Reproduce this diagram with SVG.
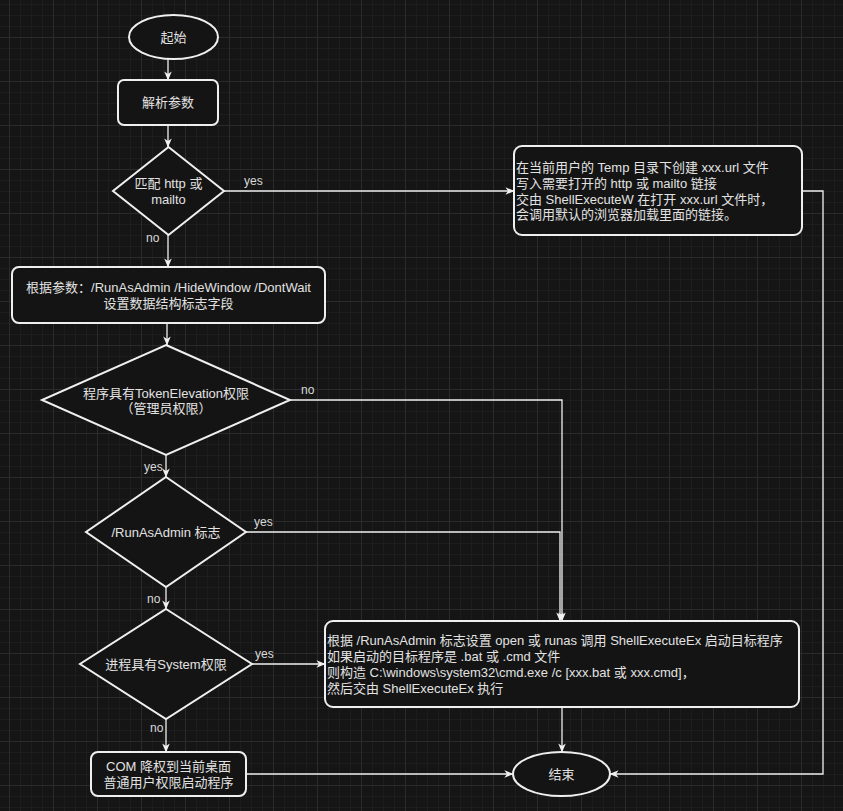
<svg xmlns="http://www.w3.org/2000/svg" width="843" height="811" viewBox="0 0 843 811">
<defs>
<pattern id="grid" patternUnits="userSpaceOnUse" x="9" y="37" width="44" height="44">
<rect width="44" height="44" fill="#151515"/>
<path d="M11.5,0V44M22.5,0V44M33.5,0V44M0,11.5H44M0,22.5H44M0,33.5H44" stroke="#1d1d1d" stroke-width="1"/>
<path d="M0.5,0V44M0,0.5H44" stroke="#2b2b2b" stroke-width="1"/>
</pattern>
<marker id="arr" viewBox="0 0 10 10" refX="9.5" refY="5" markerWidth="9" markerHeight="9" markerUnits="userSpaceOnUse" orient="auto">
<path d="M0,0.8 L10,5 L0,9.2 L2.8,5 Z" fill="#f0f0f0"/>
</marker>
</defs>
<style>
.n{fill:#141414;stroke:#efefef;stroke-width:2}
.t{font-family:"Liberation Sans","Noto Sans CJK SC",sans-serif;font-size:13px;fill:#e2e2e2}
.c{fill:none;stroke:#f0f0f0;stroke-width:1.3;marker-end:url(#arr)}
.cn{fill:none;stroke:#f0f0f0;stroke-width:1.3}
.l{font-family:"Liberation Sans","Noto Sans CJK SC",sans-serif;font-size:12px;fill:#d8d8d8}
</style>
<rect width="843" height="811" fill="url(#grid)"/>

<g id="connectors">
<path class="c" d="M168,59 V80"/>
<path class="c" d="M168,125 V147"/>
<path class="c" d="M224,191 H514"/>
<path class="c" d="M168,235 V267"/>
<path class="c" d="M167,323 V345"/>
<path class="c" d="M290,400 H562 V621"/>
<path class="c" d="M166,455 V477"/>
<path class="c" d="M246,532 H560 V621"/>
<path class="c" d="M166,587 V609"/>
<path class="c" d="M252,664 H325"/>
<path class="c" d="M166,719 V752"/>
<path class="c" d="M246,774 H513"/>
<path class="c" d="M562,707 V752"/>
<path class="c" d="M802,191 H823 V774 H610"/>
<text class="l" x="244" y="185">yes</text>
<text class="l" x="146" y="242">no</text>
<text class="l" x="301" y="394">no</text>
<text class="l" x="144" y="471">yes</text>
<text class="l" x="254" y="526">yes</text>
<text class="l" x="147" y="603">no</text>
<text class="l" x="255" y="658">yes</text>
<text class="l" x="150" y="732">no</text>
</g>

<g id="start">
<ellipse class="n" cx="173.5" cy="37" rx="44.5" ry="22"/>
<text class="t" x="173.5" y="41.5" text-anchor="middle">起始</text>
</g>

<g id="parse">
<rect class="n" x="118" y="80" width="100" height="45" rx="6"/>
<text class="t" x="168" y="107" text-anchor="middle">解析参数</text>
</g>

<g id="match">
<polygon class="n" points="168.5,147 224,191 168.5,235 113,191"/>
<text class="t" x="168.5" y="187.5" text-anchor="middle">匹配 http 或</text>
<text class="t" x="168.5" y="203.5" text-anchor="middle">mailto</text>
</g>

<g id="urlfile">
<rect class="n" x="514" y="146" width="288" height="89" rx="8"/>
<text class="t" x="516" y="172">在当前用户的 Temp 目录下创建 xxx.url 文件</text>
<text class="t" x="516" y="188">写入需要打开的 http 或 mailto 链接</text>
<text class="t" x="516" y="203.5">交由 ShellExecuteW 在打开 xxx.url 文件时，</text>
<text class="t" x="516" y="219">会调用默认的浏览器加载里面的链接。</text>
</g>

<g id="flags">
<rect class="n" x="12" y="267" width="313" height="56" rx="7"/>
<text class="t" x="168.5" y="291.5" text-anchor="middle">根据参数：/RunAsAdmin /HideWindow /DontWait</text>
<text class="t" x="168.5" y="307.5" text-anchor="middle">设置数据结构标志字段</text>
</g>

<g id="token">
<polygon class="n" points="166,345 290,400 166,455 42,400"/>
<text class="t" x="166" y="397.5" text-anchor="middle">程序具有TokenElevation权限</text>
<text class="t" x="166" y="412.5" text-anchor="middle">（管理员权限）</text>
</g>

<g id="runasadmin">
<polygon class="n" points="166,477 246,532 166,587 86,532"/>
<text class="t" x="166" y="536.5" text-anchor="middle">/RunAsAdmin 标志</text>
</g>

<g id="system">
<polygon class="n" points="166,609 252,664 166,719 80,664"/>
<text class="t" x="166" y="668.5" text-anchor="middle">进程具有System权限</text>
</g>

<g id="shellexec">
<rect class="n" x="325" y="621" width="474" height="86" rx="8"/>
<text class="t" x="327" y="644.5">根据 /RunAsAdmin 标志设置 open 或 runas 调用 ShellExecuteEx 启动目标程序</text>
<text class="t" x="327" y="660.5">如果启动的目标程序是 .bat 或 .cmd 文件</text>
<text class="t" x="327" y="676.5">则构造 C:\windows\system32\cmd.exe /c [xxx.bat 或 xxx.cmd]，</text>
<text class="t" x="327" y="692.5">然后交由 ShellExecuteEx 执行</text>
</g>

<g id="com">
<rect class="n" x="91" y="752" width="155" height="44" rx="7"/>
<text class="t" x="168.5" y="770.5" text-anchor="middle">COM 降权到当前桌面</text>
<text class="t" x="168.5" y="786.5" text-anchor="middle">普通用户权限启动程序</text>
</g>

<g id="end">
<ellipse class="n" cx="561.5" cy="774" rx="48.5" ry="22"/>
<text class="t" x="561.5" y="778.5" text-anchor="middle">结束</text>
</g>
</svg>
